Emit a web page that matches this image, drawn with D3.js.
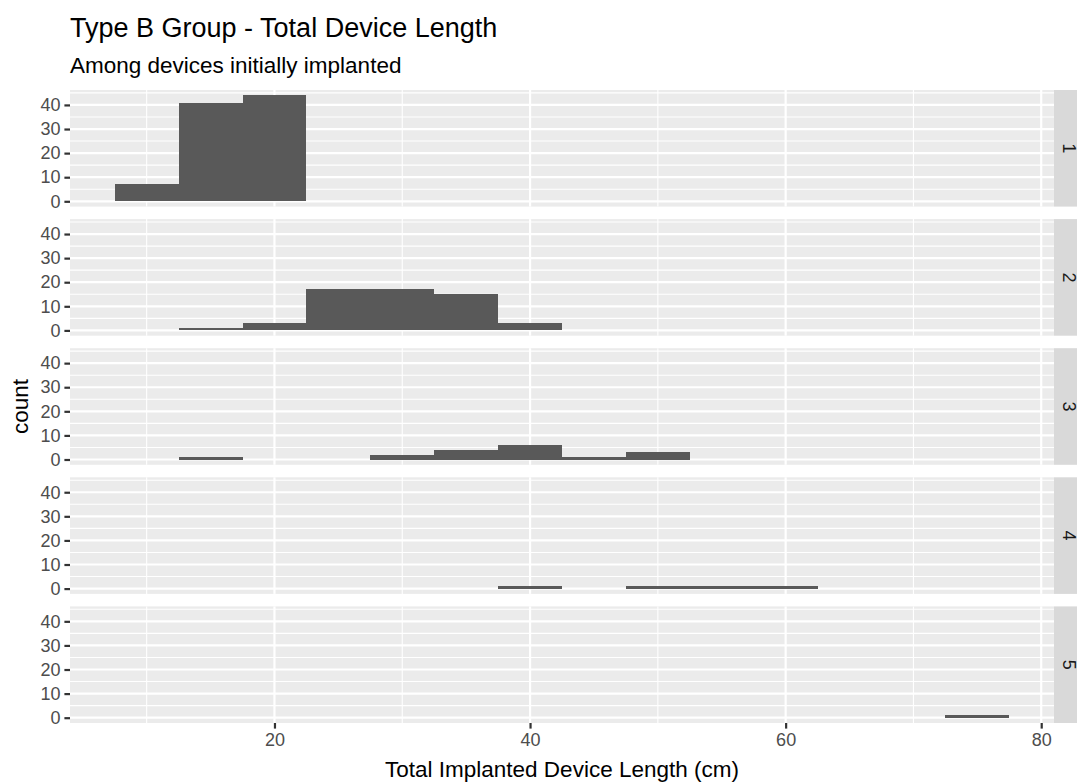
<!DOCTYPE html>
<html>
<head>
<meta charset="utf-8">
<script src="https://cdn.jsdelivr.net/npm/d3@7"></script>
<style>
  body { margin: 0; background: #fff; }
  text { font-family: "Liberation Sans", Arial, sans-serif; }
</style>
</head>
<body>
<svg></svg>
<script>
// bin centres (binwidth 5) and counts per group
const binCenters = [10, 15, 20, 25, 30, 35, 40, 45, 50, 55, 60, 65, 70, 75];
const binWidth = 5;
const groups = ['1', '2', '3', '4', '5'];
const counts1 = [7, 41, 44, 0, 0, 0, 0, 0, 0, 0, 0, 0, 0, 0];
const counts2 = [0, 1, 3, 17, 17, 15, 3, 0, 0, 0, 0, 0, 0, 0];
const counts3 = [0, 1, 0, 0, 2, 4, 6, 1, 3, 0, 0, 0, 0, 0];
const counts4 = [0, 0, 0, 0, 0, 0, 1, 0, 1, 1, 1, 0, 0, 0];
const counts5 = [0, 0, 0, 0, 0, 0, 0, 0, 0, 0, 0, 0, 0, 1];
const allCounts = [counts1, counts2, counts3, counts4, counts5];

const xMajor = [20, 40, 60, 80];
const xMinor = [10, 30, 50, 70];
const yMajor = [0, 10, 20, 30, 40];
const yMinor = [5, 15, 25, 35, 45];

const width = 1077;
const height = 783;

const svg = d3.select('svg')
  .attr('width', width)
  .attr('height', height);

// panel layout
const panelLeft = 70;
const panelRight = 1054;
const panelTop = 90;
const panelH = 116.6;
const gap = 12.5;
const stripW = 36;

// ggplot style 5% expansion on both scales
const xMin = d3.min(binCenters) - binWidth / 2;
const xMax = d3.max(binCenters) + binWidth / 2;
const xPad = (xMax - xMin) * 0.05;
const x = d3.scaleLinear()
  .domain([xMin - xPad, xMax + xPad])
  .range([panelLeft, panelRight]);

const yMax = d3.max(allCounts, (c) => d3.max(c));
const yPad = yMax * 0.05;

const gridCol = '#ffffff';

groups.forEach((g, i) => {
  const py = panelTop + i * (panelH + gap);
  const y = d3.scaleLinear()
    .domain([-yPad, yMax + yPad])
    .range([py + panelH, py]);

  const panel = svg.append('g');

  panel.append('rect')
    .attr('x', panelLeft)
    .attr('y', py)
    .attr('width', panelRight - panelLeft)
    .attr('height', panelH)
    .attr('fill', '#EBEBEB');

  // minor grid
  panel.selectAll('.xmin').data(xMinor).enter().append('line')
    .attr('x1', (d) => x(d)).attr('x2', (d) => x(d))
    .attr('y1', py).attr('y2', py + panelH)
    .attr('stroke', gridCol).attr('stroke-width', 1.1);
  panel.selectAll('.ymin').data(yMinor).enter().append('line')
    .attr('x1', panelLeft).attr('x2', panelRight)
    .attr('y1', (d) => y(d)).attr('y2', (d) => y(d))
    .attr('stroke', gridCol).attr('stroke-width', 1.1);

  // major grid
  panel.selectAll('.xmaj').data(xMajor).enter().append('line')
    .attr('x1', (d) => x(d)).attr('x2', (d) => x(d))
    .attr('y1', py).attr('y2', py + panelH)
    .attr('stroke', gridCol).attr('stroke-width', 2.2);
  panel.selectAll('.ymaj').data(yMajor).enter().append('line')
    .attr('x1', panelLeft).attr('x2', panelRight)
    .attr('y1', (d) => y(d)).attr('y2', (d) => y(d))
    .attr('stroke', gridCol).attr('stroke-width', 2.2);

  // bars (crisp edges so neighbouring bins don't show seams)
  const bins = binCenters.map((c, j) => ({ c: c, n: allCounts[i][j] }))
    .filter((d) => d.n > 0);
  panel.selectAll('.bar').data(bins).enter().append('rect')
    .attr('x', (d) => x(d.c - binWidth / 2))
    .attr('width', (d) => x(d.c + binWidth / 2) - x(d.c - binWidth / 2))
    .attr('y', (d) => y(d.n))
    .attr('height', (d) => y(0) - y(d.n))
    .attr('fill', '#595959')
    .attr('shape-rendering', 'crispEdges');

  // y axis
  const yAxis = svg.append('g')
    .attr('transform', `translate(${panelLeft},0)`)
    .call(d3.axisLeft(y).tickValues(yMajor).tickSize(5.6).tickPadding(4));
  yAxis.select('.domain').remove();
  yAxis.selectAll('line').attr('stroke', '#333333').attr('stroke-width', 2.2);
  yAxis.selectAll('text')
    .attr('fill', '#4D4D4D')
    .style('font-size', '18px')
    .style('font-family', '"Liberation Sans", Arial, sans-serif');

  // strip on the right (runs past the page edge, as in the picture)
  svg.append('rect')
    .attr('x', panelRight)
    .attr('y', py)
    .attr('width', stripW)
    .attr('height', panelH)
    .attr('fill', '#D9D9D9');
  svg.append('text')
    .attr('transform', `translate(${panelRight + 15.5},${py + panelH / 2}) rotate(90)`)
    .attr('text-anchor', 'middle')
    .attr('dy', '0.35em')
    .attr('fill', '#1A1A1A')
    .style('font-size', '18px')
    .text(g);

  // x axis only under the last panel
  if (i === groups.length - 1) {
    const xAxis = svg.append('g')
      .attr('transform', `translate(0,${py + panelH})`)
      .call(d3.axisBottom(x).tickValues(xMajor).tickSize(5.6).tickPadding(4.5));
    xAxis.select('.domain').remove();
    xAxis.selectAll('line').attr('stroke', '#333333').attr('stroke-width', 2.2);
    xAxis.selectAll('text')
      .attr('fill', '#4D4D4D')
      .style('font-size', '18px')
      .style('font-family', '"Liberation Sans", Arial, sans-serif');
  }
});

// titles
svg.append('text')
  .attr('x', panelLeft)
  .attr('y', 37)
  .attr('fill', '#000')
  .style('font-size', '27px')
  .text('Type B Group - Total Device Length');

svg.append('text')
  .attr('x', panelLeft)
  .attr('y', 72.5)
  .attr('fill', '#000')
  .style('font-size', '22.5px')
  .text('Among devices initially implanted');

const panelsBottom = panelTop + groups.length * panelH + (groups.length - 1) * gap;

svg.append('text')
  .attr('x', (panelLeft + panelRight) / 2)
  .attr('y', 777)
  .attr('text-anchor', 'middle')
  .attr('fill', '#000')
  .style('font-size', '22.5px')
  .text('Total Implanted Device Length (cm)');

svg.append('text')
  .attr('transform', `translate(28,${(panelTop + panelsBottom) / 2}) rotate(-90)`)
  .attr('text-anchor', 'middle')
  .attr('fill', '#000')
  .style('font-size', '22.5px')
  .text('count');
</script>
</body>
</html>
